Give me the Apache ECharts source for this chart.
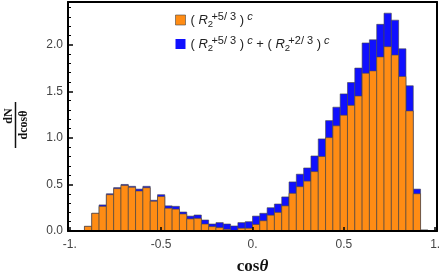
<!DOCTYPE html>
<html><head><meta charset="utf-8">
<script src="https://cdn.jsdelivr.net/npm/echarts@6/dist/echarts.min.js"></script>
<style>html,body{margin:0;padding:0;background:#fff}#c{width:442px;height:275px}</style>
</head><body><div id="c"></div>
<script>
// histogram bins (left edges), width 0.04
const binStart = [-0.92,-0.88,-0.84,-0.80,-0.76,-0.72,-0.68,-0.64,-0.60,-0.56,-0.52,-0.48,-0.44,-0.40,-0.36,-0.32,-0.28,-0.24,-0.20,-0.16,-0.12,-0.08,-0.04,0.00,0.04,0.08,0.12,0.16,0.20,0.24,0.28,0.32,0.36,0.40,0.44,0.48,0.52,0.56,0.60,0.64,0.68,0.72,0.76,0.80,0.84,0.88,0.92];
const binWidth = 0.04;
// (R2^{+5/3})^c
const orangeVals = [0.05,0.19,0.265,0.39,0.455,0.49,0.47,0.43,0.465,0.32,0.37,0.245,0.235,0.183,0.13,0.136,0.075,0.047,0.036,0.018,0.005,0.03,0.03,0.07,0.11,0.17,0.20,0.27,0.405,0.476,0.536,0.638,0.80,1.003,1.13,1.244,1.35,1.45,1.695,1.72,1.87,1.98,1.89,1.66,1.29,0.40,0.01];
// (R2^{+5/3})^c + (R2^{+2/3})^c
const totalVals = [0.05,0.19,0.28,0.40,0.466,0.50,0.48,0.45,0.48,0.33,0.39,0.27,0.265,0.204,0.16,0.172,0.118,0.075,0.09,0.075,0.054,0.09,0.10,0.16,0.19,0.25,0.29,0.366,0.527,0.61,0.677,0.806,0.989,1.186,1.33,1.473,1.595,1.75,2.02,2.054,2.22,2.34,2.265,1.957,1.56,0.45,0.01];
const xTicks = [-1,-0.5,0,0.5,1];
const xTickLabels = ['-1.','-0.5','0.','0.5','1.'];
const yTicks = [0,0.5,1,1.5,2];
const yTickLabels = ['0.0','0.5','1.0','1.5','2.0'];
const yMinorTicks = [0.1,0.2,0.3,0.4,0.6,0.7,0.8,0.9,1.1,1.2,1.3,1.4,1.6,1.7,1.8,1.9,2.1,2.2,2.3,2.4];

const ORANGE = '#FF8C14', BLUE = '#1010FF';
const chart = echarts.init(document.getElementById('c'), null, {renderer:'canvas'});

function makeRender(fill){
  return function(params, api){
    const x0 = api.value(0), x1 = x0 + binWidth;
    const lo = api.value(1), hi = api.value(2);
    const p0 = api.coord([x0, lo]);
    const p1 = api.coord([x1, hi]);
    return {type:'rect', shape:{x:p0[0], y:p1[1], width:p1[0]-p0[0], height:p0[1]-p1[1]},
      style:{fill:fill, stroke:'rgba(70,70,70,0.6)', lineWidth:1}};
  };
}
const orangeData = binStart.map((s,i)=>[s,0,orangeVals[i]]);
const totalData = binStart.map((s,i)=>[s,0,totalVals[i]]);

const FF = 'Liberation Sans';
const richLegend = {
  n:{fontSize:13, fontFamily:FF, color:'#222', lineHeight:18, verticalAlign:'middle'},
  i:{fontSize:13, fontFamily:FF, fontStyle:'italic', color:'#222', lineHeight:18, verticalAlign:'middle'},
  sb:{fontSize:9.5, fontFamily:FF, color:'#222', lineHeight:9, verticalAlign:'bottom', width:0.5},
  sp:{fontSize:11, fontFamily:FF, color:'#222', lineHeight:10, verticalAlign:'top'},
  spi:{fontSize:11, fontFamily:FF, fontStyle:'italic', color:'#222', lineHeight:10, verticalAlign:'top'}
};
const legendText = {
  orange: '{n|( }{i|R}{sb|2}{sp| +5/ 3}{n| )}{spi| c}',
  total: '{n|( }{i|R}{sb|2}{sp| +5/ 3}{n| )}{spi| c}{n| + ( }{i|R}{sb|2}{sp| +2/ 3}{n| )}{spi| c}'
};

chart.setOption({
  animation:false,
  grid:{left:68, right:5, top:2, bottom:44, containLabel:false, outerBoundsMode:'none'},
  legend:{
    orient:'vertical', left:175, top:11, itemWidth:10, itemHeight:10, itemGap:6, padding:0,
    data:[
      {name:'orange', icon:'rect', itemStyle:{color:ORANGE, borderColor:'rgba(70,70,70,0.6)', borderWidth:1}},
      {name:'total', icon:'rect', itemStyle:{color:BLUE, borderWidth:0}}
    ],
    formatter: n => legendText[n],
    textStyle:{rich:richLegend}
  },
  xAxis:[
    {type:'value', min:-1.01, max:1.01, position:'bottom', z:5,
     axisLine:{show:true, onZero:false, lineStyle:{color:'#000', width:2}},
     axisTick:{show:true, inside:true, length:4, customValues:xTicks, lineStyle:{color:'#000', width:1.5}},
     axisLabel:{customValues:xTicks, formatter:v=>xTickLabels[xTicks.indexOf(+v.toFixed(2))], fontSize:12, fontFamily:FF, color:'#444', margin:8},
     splitLine:{show:false},
     name:'cos{th|θ}', nameLocation:'middle', nameGap:27,
     nameTextStyle:{fontFamily:'Liberation Serif', fontWeight:'bold', fontSize:17, color:'#111',
       rich:{th:{fontFamily:'Liberation Serif', fontWeight:'bold', fontStyle:'italic', fontSize:17, color:'#111'}}}},
    {type:'value', min:-1.01, max:1.01, position:'top', z:5,
     axisLine:{show:true, onZero:false, lineStyle:{color:'#000', width:2}},
     axisTick:{show:false}, axisLabel:{show:false}, splitLine:{show:false}}
  ],
  yAxis:[
    {type:'value', min:0, max:2.46, position:'left', z:5,
     axisLine:{show:true, onZero:false, lineStyle:{color:'#000', width:2}},
     axisTick:{show:true, inside:true, length:5, customValues:yTicks, lineStyle:{color:'#000', width:1.5}},
     axisLabel:{customValues:yTicks, formatter:v=>yTickLabels[yTicks.indexOf(+v.toFixed(2))], fontSize:12, fontFamily:FF, color:'#444', margin:5},
     splitLine:{show:false}},
    {type:'value', min:0, max:2.46, position:'right', z:5,
     axisLine:{show:true, onZero:false, lineStyle:{color:'#000', width:2}},
     axisTick:{show:false}, axisLabel:{show:false}, splitLine:{show:false}},
    {type:'value', min:0, max:2.46, position:'left', z:5,
     axisLine:{show:false, onZero:false},
     axisTick:{show:true, inside:true, length:3, customValues:yMinorTicks, lineStyle:{color:'#000', width:1}},
     axisLabel:{show:false}, splitLine:{show:false}}
  ],
  graphic:[
    {type:'text', x:9, y:116, rotation:Math.PI/2, style:{text:'dN', font:'bold 12px "Liberation Serif"', fill:'#111', textAlign:'center', textVerticalAlign:'middle'}},
    {type:'line', shape:{x1:15.5, y1:102, x2:15.5, y2:148}, style:{stroke:'#111', lineWidth:1.5}},
    {type:'text', x:23.5, y:125, rotation:Math.PI/2, style:{text:'dcosθ', font:'bold 12px "Liberation Serif"', fill:'#111', textAlign:'center', textVerticalAlign:'middle'}}
  ],
  series:[
    {name:'total', type:'custom', xAxisIndex:0, yAxisIndex:0, z:2, itemStyle:{color:BLUE},
     renderItem:makeRender(BLUE), encode:{x:0, y:[1,2]}, data:totalData},
    {name:'orange', type:'custom', xAxisIndex:0, yAxisIndex:0, z:3, itemStyle:{color:ORANGE},
     renderItem:makeRender(ORANGE), encode:{x:0, y:[1,2]}, data:orangeData}
  ]
});
</script></body></html>
